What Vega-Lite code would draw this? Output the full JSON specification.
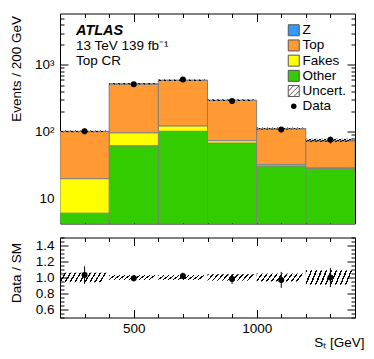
{
  "$schema": "https://vega.github.io/schema/vega-lite/v6.json",
  "padding": {"left": 8, "top": 10.5, "right": 4, "bottom": 4},
  "spacing": 14,
  "bounds": "flush",
  "config": {
    "font": "Liberation Sans",
    "view": {"stroke": "black", "strokeWidth": 1},
    "axis": {
      "labelFont": "Liberation Sans", "labelFontSize": 13.5, "labelColor": "black",
      "titleFont": "Liberation Sans", "titleFontSize": 13.5, "titleFontWeight": "normal", "titleColor": "black",
      "domain": false, "grid": false, "tickColor": "black", "labelOverlap": false, "labelFlush": false, "minExtent": 0
    }
  },
  "datasets": {
    "stack": [
      {"lo": 200, "hi": 400, "process": "Other", "ylo": 1, "yhi": 6.1},
      {"lo": 400, "hi": 600, "process": "Other", "ylo": 1, "yhi": 62},
      {"lo": 600, "hi": 800, "process": "Other", "ylo": 1, "yhi": 102},
      {"lo": 800, "hi": 1000, "process": "Other", "ylo": 1, "yhi": 68},
      {"lo": 1000, "hi": 1200, "process": "Other", "ylo": 1, "yhi": 31},
      {"lo": 1200, "hi": 1400, "process": "Other", "ylo": 1, "yhi": 28.5},
      {"lo": 200, "hi": 400, "process": "Fakes", "ylo": 6.1, "yhi": 20},
      {"lo": 400, "hi": 600, "process": "Fakes", "ylo": 62, "yhi": 97},
      {"lo": 600, "hi": 800, "process": "Fakes", "ylo": 102, "yhi": 123},
      {"lo": 800, "hi": 1000, "process": "Fakes", "ylo": 68, "yhi": 74},
      {"lo": 1000, "hi": 1200, "process": "Fakes", "ylo": 31, "yhi": 32.5},
      {"lo": 1200, "hi": 1400, "process": "Fakes", "ylo": 28.5, "yhi": 29},
      {"lo": 200, "hi": 400, "process": "Top", "ylo": 20, "yhi": 101},
      {"lo": 400, "hi": 600, "process": "Top", "ylo": 97, "yhi": 518},
      {"lo": 600, "hi": 800, "process": "Top", "ylo": 123, "yhi": 588},
      {"lo": 800, "hi": 1000, "process": "Top", "ylo": 74, "yhi": 295},
      {"lo": 1000, "hi": 1200, "process": "Top", "ylo": 32.5, "yhi": 111},
      {"lo": 1200, "hi": 1400, "process": "Top", "ylo": 29, "yhi": 73},
      {"lo": 200, "hi": 400, "process": "Z", "ylo": 101, "yhi": 102},
      {"lo": 400, "hi": 600, "process": "Z", "ylo": 518, "yhi": 520},
      {"lo": 600, "hi": 800, "process": "Z", "ylo": 588, "yhi": 590},
      {"lo": 800, "hi": 1000, "process": "Z", "ylo": 295, "yhi": 297},
      {"lo": 1000, "hi": 1200, "process": "Z", "ylo": 111, "yhi": 112},
      {"lo": 1200, "hi": 1400, "process": "Z", "ylo": 73, "yhi": 75}
    ],
    "mc": [
      {"lo": 200, "hi": 400, "total": 102, "ulo": 99, "uhi": 105, "rlo": 0.94, "rhi": 1.06},
      {"lo": 400, "hi": 600, "total": 520, "ulo": 508, "uhi": 532, "rlo": 0.97, "rhi": 1.03},
      {"lo": 600, "hi": 800, "total": 590, "ulo": 576, "uhi": 604, "rlo": 0.97, "rhi": 1.03},
      {"lo": 800, "hi": 1000, "total": 297, "ulo": 289, "uhi": 305, "rlo": 0.96, "rhi": 1.04},
      {"lo": 1000, "hi": 1200, "total": 112, "ulo": 108, "uhi": 116, "rlo": 0.95, "rhi": 1.05},
      {"lo": 1200, "hi": 1400, "total": 75, "ulo": 71, "uhi": 79, "rlo": 0.91, "rhi": 1.09}
    ],
    "obs": [
      {"x": 300, "n": 102, "nlo": 92, "nhi": 112, "ratio": 1.03, "elo": 0.92, "ehi": 1.14},
      {"x": 500, "n": 515, "nlo": 492, "nhi": 538, "ratio": 0.99, "elo": 0.95, "ehi": 1.03},
      {"x": 700, "n": 605, "nlo": 580, "nhi": 630, "ratio": 1.02, "elo": 0.98, "ehi": 1.06},
      {"x": 900, "n": 290, "nlo": 273, "nhi": 307, "ratio": 0.98, "elo": 0.92, "ehi": 1.04},
      {"x": 1100, "n": 108, "nlo": 98, "nhi": 118, "ratio": 0.97, "elo": 0.87, "ehi": 1.07},
      {"x": 1300, "n": 76, "nlo": 67, "nhi": 85, "ratio": 1.0, "elo": 0.88, "ehi": 1.12}
    ]
  },
  "vconcat": [
    {
      "width": 295,
      "height": 210,
      "title": {
        "text": "ATLAS",
        "subtitle": ["13 TeV 139 fb⁻¹", "Top CR"],
        "anchor": "start", "frame": "group", "orient": "top",
        "font": "Liberation Sans", "fontSize": 14.5, "fontStyle": "italic", "fontWeight": "bold", "color": "black", "lineHeight": 13,
        "subtitleFont": "Liberation Sans", "subtitleFontSize": 13.5, "subtitleColor": "black", "subtitlePadding": 0, "subtitleLineHeight": 15,
        "offset": -57, "dx": 16
      },
      "layer": [
        {
          "data": {"name": "stack"},
          "mark": {"type": "rect", "stroke": "#808080", "strokeWidth": 1, "clip": true},
          "encoding": {
            "x": {"field": "lo", "type": "quantitative", "scale": {"domain": [200, 1400], "nice": false, "zero": false},
              "axis": {"orient": "bottom", "values": [200,300,400,500,600,700,800,900,1000,1100,1200,1300,1400], "labels": false, "title": null,
                "tickSize": {"condition": {"test": "datum.value % 500 === 0", "value": -8}, "value": -4}}},
            "x2": {"field": "hi"},
            "y": {"field": "ylo", "type": "quantitative", "scale": {"type": "log", "domain": [4.27, 5870], "nice": false},
              "axis": {"orient": "left", "values": [5,6,7,8,9,10,20,30,40,50,60,70,80,90,100,200,300,400,500,600,700,800,900,1000,2000,3000,4000,5000],
                "labelExpr": "datum.value === 10 ? '10' : datum.value === 100 ? '10²' : datum.value === 1000 ? '10³' : ''",
                "tickSize": {"condition": {"test": "datum.value === 10 || datum.value === 100 || datum.value === 1000", "value": -8}, "value": -4},
                "labelPadding": 14,
                "title": "Events / 200 GeV", "titleX": -44, "titleY": 2, "titleAngle": -90, "titleAlign": "right", "titleBaseline": "middle"}},
            "y2": {"field": "yhi"},
            "color": {"field": "process", "type": "nominal",
              "scale": {"domain": ["Z", "Top", "Fakes", "Other", "Uncert.", "Data"], "range": ["#3399ff", "#ff9933", "#ffff00", "#33cc00", "#ffffff", "#000000"]},
              "legend": {
                "orient": "none", "legendX": 227, "legendY": 10, "title": null, "padding": 0,
                "labelFont": "Liberation Sans", "labelFontSize": 13.5, "labelColor": "black", "labelOffset": 2,
                "symbolType": "square", "symbolSize": 121, "symbolStrokeColor": "#555555", "symbolStrokeWidth": 1, "symbolOpacity": 1,
                "rowPadding": -0.8,
                "encode": {"symbols": {"update": {
                  "shape": {"signal": "datum.label === 'Data' ? 'circle' : datum.label === 'Uncert.' ? 'M-1,-1H1V1H-1Z M-1,0L0,-1 M-1,1L1,-1 M0,1L1,0' : 'square'"},
                  "size": {"signal": "datum.label === 'Data' ? 30 : 121"},
                  "strokeWidth": {"signal": "datum.label === 'Data' ? 0 : 1"},
                  "stroke": {"value": "#555555"}
                }}}
              }}
          }
        },
        {
          "data": {"name": "mc"},
          "mark": {"type": "rect", "clip": true,
            "fill": {"gradient": "linear", "x1": 0, "y1": 0, "x2": 1, "y2": 0.12, "stops": [
              {"offset": 0, "color": "#000000"}, {"offset": 0.03, "color": "#000000"}, {"offset": 0.03, "color": "rgba(0,0,0,0)"},
              {"offset": 0.1, "color": "rgba(0,0,0,0)"}, {"offset": 0.1, "color": "#000000"}, {"offset": 0.13, "color": "#000000"}, {"offset": 0.13, "color": "rgba(0,0,0,0)"},
              {"offset": 0.2, "color": "rgba(0,0,0,0)"}, {"offset": 0.2, "color": "#000000"}, {"offset": 0.23, "color": "#000000"}, {"offset": 0.23, "color": "rgba(0,0,0,0)"},
              {"offset": 0.3, "color": "rgba(0,0,0,0)"}, {"offset": 0.3, "color": "#000000"}, {"offset": 0.33, "color": "#000000"}, {"offset": 0.33, "color": "rgba(0,0,0,0)"},
              {"offset": 0.4, "color": "rgba(0,0,0,0)"}, {"offset": 0.4, "color": "#000000"}, {"offset": 0.43, "color": "#000000"}, {"offset": 0.43, "color": "rgba(0,0,0,0)"},
              {"offset": 0.5, "color": "rgba(0,0,0,0)"}, {"offset": 0.5, "color": "#000000"}, {"offset": 0.53, "color": "#000000"}, {"offset": 0.53, "color": "rgba(0,0,0,0)"},
              {"offset": 0.6, "color": "rgba(0,0,0,0)"}, {"offset": 0.6, "color": "#000000"}, {"offset": 0.63, "color": "#000000"}, {"offset": 0.63, "color": "rgba(0,0,0,0)"},
              {"offset": 0.7, "color": "rgba(0,0,0,0)"}, {"offset": 0.7, "color": "#000000"}, {"offset": 0.73, "color": "#000000"}, {"offset": 0.73, "color": "rgba(0,0,0,0)"},
              {"offset": 0.8, "color": "rgba(0,0,0,0)"}, {"offset": 0.8, "color": "#000000"}, {"offset": 0.83, "color": "#000000"}, {"offset": 0.83, "color": "rgba(0,0,0,0)"},
              {"offset": 0.9, "color": "rgba(0,0,0,0)"}, {"offset": 0.9, "color": "#000000"}, {"offset": 0.93, "color": "#000000"}, {"offset": 0.93, "color": "rgba(0,0,0,0)"},
              {"offset": 1, "color": "rgba(0,0,0,0)"}
            ]}},
          "encoding": {
            "x": {"field": "lo", "type": "quantitative", "axis": null},
            "x2": {"field": "hi"},
            "y": {"field": "ulo", "type": "quantitative", "axis": null},
            "y2": {"field": "uhi"}
          }
        },
        {
          "data": {"name": "obs"},
          "mark": {"type": "rule", "color": "black", "strokeWidth": 1},
          "encoding": {
            "x": {"field": "x", "type": "quantitative", "axis": null},
            "y": {"field": "nlo", "type": "quantitative", "axis": null},
            "y2": {"field": "nhi"}
          }
        },
        {
          "data": {"name": "obs"},
          "mark": {"type": "point", "filled": true, "color": "black", "opacity": 1, "size": 36},
          "encoding": {
            "x": {"field": "x", "type": "quantitative",
              "axis": {"orient": "top", "values": [200,300,400,500,600,700,800,900,1000,1100,1200,1300,1400], "labels": false, "title": null,
                "tickSize": {"condition": {"test": "datum.value % 500 === 0", "value": -8}, "value": -4}}},
            "y": {"field": "n", "type": "quantitative",
              "axis": {"orient": "right", "values": [5,6,7,8,9,10,20,30,40,50,60,70,80,90,100,200,300,400,500,600,700,800,900,1000,2000,3000,4000,5000], "labels": false, "title": null,
                "tickSize": {"condition": {"test": "datum.value === 10 || datum.value === 100 || datum.value === 1000", "value": -8}, "value": -4}}}
          }
        }
      ],
      "resolve": {"axis": {"x": "independent", "y": "independent"}}
    },
    {
      "width": 295,
      "height": 80,
      "layer": [
        {
          "data": {"name": "mc"},
          "mark": {"type": "rect", "clip": true,
            "fill": {"gradient": "linear", "x1": 0, "y1": 0, "x2": 1, "y2": 0.12, "stops": [
              {"offset": 0, "color": "#000000"}, {"offset": 0.03, "color": "#000000"}, {"offset": 0.03, "color": "rgba(0,0,0,0)"},
              {"offset": 0.1, "color": "rgba(0,0,0,0)"}, {"offset": 0.1, "color": "#000000"}, {"offset": 0.13, "color": "#000000"}, {"offset": 0.13, "color": "rgba(0,0,0,0)"},
              {"offset": 0.2, "color": "rgba(0,0,0,0)"}, {"offset": 0.2, "color": "#000000"}, {"offset": 0.23, "color": "#000000"}, {"offset": 0.23, "color": "rgba(0,0,0,0)"},
              {"offset": 0.3, "color": "rgba(0,0,0,0)"}, {"offset": 0.3, "color": "#000000"}, {"offset": 0.33, "color": "#000000"}, {"offset": 0.33, "color": "rgba(0,0,0,0)"},
              {"offset": 0.4, "color": "rgba(0,0,0,0)"}, {"offset": 0.4, "color": "#000000"}, {"offset": 0.43, "color": "#000000"}, {"offset": 0.43, "color": "rgba(0,0,0,0)"},
              {"offset": 0.5, "color": "rgba(0,0,0,0)"}, {"offset": 0.5, "color": "#000000"}, {"offset": 0.53, "color": "#000000"}, {"offset": 0.53, "color": "rgba(0,0,0,0)"},
              {"offset": 0.6, "color": "rgba(0,0,0,0)"}, {"offset": 0.6, "color": "#000000"}, {"offset": 0.63, "color": "#000000"}, {"offset": 0.63, "color": "rgba(0,0,0,0)"},
              {"offset": 0.7, "color": "rgba(0,0,0,0)"}, {"offset": 0.7, "color": "#000000"}, {"offset": 0.73, "color": "#000000"}, {"offset": 0.73, "color": "rgba(0,0,0,0)"},
              {"offset": 0.8, "color": "rgba(0,0,0,0)"}, {"offset": 0.8, "color": "#000000"}, {"offset": 0.83, "color": "#000000"}, {"offset": 0.83, "color": "rgba(0,0,0,0)"},
              {"offset": 0.9, "color": "rgba(0,0,0,0)"}, {"offset": 0.9, "color": "#000000"}, {"offset": 0.93, "color": "#000000"}, {"offset": 0.93, "color": "rgba(0,0,0,0)"},
              {"offset": 1, "color": "rgba(0,0,0,0)"}
            ]}},
          "encoding": {
            "x": {"field": "lo", "type": "quantitative", "scale": {"domain": [200, 1400], "nice": false, "zero": false},
              "axis": {"orient": "bottom", "values": [200,300,400,500,600,700,800,900,1000,1100,1200,1300,1400],
                "labelExpr": "datum.value % 500 === 0 ? format(datum.value, 'd') : ''",
                "tickSize": {"condition": {"test": "datum.value % 500 === 0", "value": -8}, "value": -4},
                "labelPadding": 12,
                "title": "Sₜ [GeV]", "titleX": 304, "titleY": 18, "titleAlign": "right", "titleBaseline": "top"}},
            "x2": {"field": "hi"},
            "y": {"field": "rlo", "type": "quantitative", "scale": {"domain": [0.5, 1.5], "nice": false, "zero": false},
              "axis": {"orient": "left", "values": [0.5,0.55,0.6,0.65,0.7,0.75,0.8,0.85,0.9,0.95,1.0,1.05,1.1,1.15,1.2,1.25,1.3,1.35,1.4,1.45,1.5],
                "labelExpr": "round(datum.value * 100) % 20 === 0 && datum.value < 1.5 ? format(datum.value, '.1f') : ''",
                "tickSize": {"condition": {"test": "round(datum.value * 100) % 20 === 0", "value": -8}, "value": -4},
                "labelPadding": 14,
                "title": "Data / SM", "titleX": -44, "titleY": 5, "titleAngle": -90, "titleAlign": "right", "titleBaseline": "middle"}},
            "y2": {"field": "rhi"}
          }
        },
        {
          "mark": {"type": "rule", "color": "black", "strokeWidth": 1},
          "encoding": {"y": {"datum": 1, "type": "quantitative", "axis": null}}
        },
        {
          "data": {"name": "obs"},
          "mark": {"type": "rule", "color": "black", "strokeWidth": 1},
          "encoding": {
            "x": {"field": "x", "type": "quantitative", "axis": null},
            "y": {"field": "elo", "type": "quantitative", "axis": null},
            "y2": {"field": "ehi"}
          }
        },
        {
          "data": {"name": "obs"},
          "mark": {"type": "point", "filled": true, "color": "black", "opacity": 1, "size": 36},
          "encoding": {
            "x": {"field": "x", "type": "quantitative",
              "axis": {"orient": "top", "values": [200,300,400,500,600,700,800,900,1000,1100,1200,1300,1400], "labels": false, "title": null,
                "tickSize": {"condition": {"test": "datum.value % 500 === 0", "value": -8}, "value": -4}}},
            "y": {"field": "ratio", "type": "quantitative",
              "axis": {"orient": "right", "values": [0.5,0.55,0.6,0.65,0.7,0.75,0.8,0.85,0.9,0.95,1.0,1.05,1.1,1.15,1.2,1.25,1.3,1.35,1.4,1.45,1.5], "labels": false, "title": null,
                "tickSize": {"condition": {"test": "round(datum.value * 100) % 20 === 0", "value": -8}, "value": -4}}}
          }
        }
      ],
      "resolve": {"axis": {"x": "independent", "y": "independent"}}
    }
  ]
}
